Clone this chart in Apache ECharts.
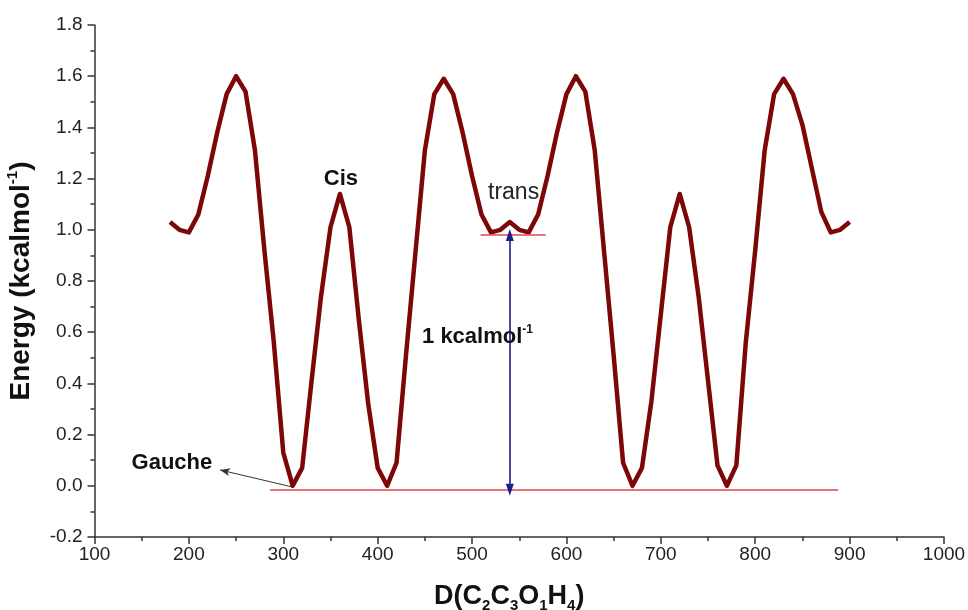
<!DOCTYPE html>
<html>
<head>
<meta charset="utf-8">
<script src="https://cdn.jsdelivr.net/npm/echarts@6/dist/echarts.min.js"></script>
<style>
  html, body { margin: 0; padding: 0; background: #fff; }
  #chart { width: 968px; height: 610px; }
</style>
</head>
<body>
<div id="chart"></div>
<script>
// Dihedral angle scan D(C2C3O1H4) and relative energy (kcal/mol)
const angles = [
  180, 190, 200, 210, 220, 230, 240, 250, 260, 270, 280, 290, 300, 310, 320, 330, 340, 350, 360, 370,
  380, 390, 400, 410, 420, 430, 440, 450, 460, 470, 480, 490, 500, 510, 520, 530, 540, 550, 560, 570,
  580, 590, 600, 610, 620, 630, 640, 650, 660, 670, 680, 690, 700, 710, 720, 730, 740, 750, 760, 770,
  780, 790, 800, 810, 820, 830, 840, 850, 860, 870, 880, 890, 900
];
const energies = [
  1.03, 1.00, 0.99, 1.06, 1.21, 1.38, 1.53, 1.60, 1.54, 1.31, 0.92, 0.56, 0.13, 0.00, 0.07, 0.41, 0.74, 1.01, 1.14, 1.01,
  0.65, 0.32, 0.07, 0.00, 0.09, 0.51, 0.91, 1.31, 1.53, 1.59, 1.53, 1.38, 1.21, 1.06, 0.99, 1.00, 1.03, 1.00, 0.99, 1.06,
  1.21, 1.38, 1.53, 1.60, 1.54, 1.31, 0.91, 0.51, 0.09, 0.00, 0.07, 0.33, 0.67, 1.01, 1.14, 1.01, 0.74, 0.41, 0.08, 0.00,
  0.08, 0.56, 0.92, 1.31, 1.53, 1.59, 1.53, 1.41, 1.24, 1.07, 0.99, 1.00, 1.03
];

// Axis ranges and ticks
const xRange = [100, 1000];
const xStep = 100;
const yRange = [-0.2, 1.8];
const yStep = 0.2;

// Reference levels
const gaucheLevel = -0.015;
const gaucheSpan = [286, 888];
const transLevel = 0.98;
const transSpan = [509, 578];
const barrierAngle = 540;

// Gauche pointer: from the minimum towards the label
const gauchePointer = [[310, -0.005], [233, 0.062]];

// Annotation anchors [angle, energy]
const gaucheLabelAt = [182, 0.089];
const cisLabelAt = [361, 1.20];
const transLabelAt = [544, 1.145];
const barrierLabelAt = [447, 0.58];

const font = '"Liberation Sans", Arial, sans-serif';
const chart = echarts.init(document.getElementById('chart'), null, { renderer: 'canvas' });

const noteLabel = (text, extra) => Object.assign({
  show: true, position: 'inside', formatter: text,
  fontFamily: font, color: '#111', fontSize: 22, fontWeight: 'bold'
}, extra || {});

const tickStyle = { color: '#333', width: 1.5 };

chart.setOption({
  animation: false,
  backgroundColor: '#fff',
  grid: { left: 94.5, right: 24, top: 25, bottom: 73, containLabel: false, outerBoundsMode: 'none' },
  xAxis: {
    type: 'value', min: xRange[0], max: xRange[1], interval: xStep,
    name: '{b|D(C}{s|2}{b|C}{s|3}{b|O}{s|1}{b|H}{s|4}{b|)}',
    nameLocation: 'middle', nameGap: 44,
    nameTextStyle: {
      padding: [0, 20, 0, 0],
      rich: {
        b: { fontFamily: font, fontSize: 27, fontWeight: 'bold', color: '#111', lineHeight: 32 },
        s: { fontFamily: font, fontSize: 15, fontWeight: 'bold', color: '#111', lineHeight: 15, verticalAlign: 'bottom' }
      }
    },
    axisLine: { show: true, onZero: false, lineStyle: { color: '#333', width: 1.5 } },
    axisTick: { show: true, inside: false, length: 7, lineStyle: tickStyle },
    minorTick: { show: true, splitNumber: 2, length: 4, lineStyle: tickStyle },
    axisLabel: { fontFamily: font, fontSize: 19, color: '#222', margin: 8, formatter: v => String(v) },
    splitLine: { show: false },
    minorSplitLine: { show: false }
  },
  yAxis: {
    type: 'value', min: yRange[0], max: yRange[1], interval: yStep,
    name: '{b|Energy (kcalmol}{p|-1}{b|)}',
    nameLocation: 'middle', nameGap: 57, nameRotate: 90,
    nameTextStyle: {
      rich: {
        b: { fontFamily: font, fontSize: 28, fontWeight: 'bold', color: '#111', lineHeight: 32 },
        p: { fontFamily: font, fontSize: 15, fontWeight: 'bold', color: '#111', lineHeight: 15, verticalAlign: 'top' }
      }
    },
    axisLine: { show: true, lineStyle: { color: '#333', width: 1.5 } },
    axisTick: { show: true, inside: false, length: 7, lineStyle: tickStyle },
    minorTick: { show: true, splitNumber: 2, length: 4, lineStyle: tickStyle },
    axisLabel: {
      fontFamily: font, fontSize: 19, color: '#222', margin: 12,
      formatter: v => v.toFixed(1)
    },
    splitLine: { show: false },
    minorSplitLine: { show: false }
  },
  series: [
    {
      type: 'line',
      data: angles.map((a, i) => [a, energies[i]]),
      symbol: 'none',
      lineStyle: { color: '#7d0606', width: 4.5, join: 'round' },
      z: 3,
      markLine: {
        silent: true,
        symbol: ['none', 'none'],
        label: { show: false },
        emphasis: { disabled: true },
        data: [
          [
            { coord: [gaucheSpan[0], gaucheLevel], lineStyle: { color: '#e0474c', width: 1.6, type: 'solid' } },
            { coord: [gaucheSpan[1], gaucheLevel] }
          ],
          [
            { coord: [transSpan[0], transLevel], lineStyle: { color: '#e0474c', width: 1.6, type: 'solid' } },
            { coord: [transSpan[1], transLevel] }
          ],
          [
            { coord: [barrierAngle, transLevel], symbol: 'triangle', symbolSize: [8, 12],
              lineStyle: { color: '#1c1c8a', width: 1.6, type: 'solid' } },
            { coord: [barrierAngle, gaucheLevel], symbol: 'triangle', symbolSize: [8, 12] }
          ],
          [
            { coord: gauchePointer[0], symbol: 'none',
              lineStyle: { color: '#333', width: 1, type: 'solid' } },
            { coord: gauchePointer[1], symbol: 'arrow', symbolSize: [6, 10] }
          ]
        ]
      },
      markPoint: {
        silent: true,
        symbol: 'circle',
        symbolSize: 0,
        data: [
          { coord: gaucheLabelAt, label: noteLabel('Gauche') },
          { coord: cisLabelAt, label: noteLabel('Cis') },
          { coord: transLabelAt, label: noteLabel('trans', { fontWeight: 'normal', fontSize: 23, color: '#222' }) },
          {
            coord: barrierLabelAt,
            label: {
              show: true, position: 'right', distance: 0,
              formatter: '{b|1 kcalmol}{p|-1}',
              rich: {
                b: { fontFamily: font, fontSize: 22, fontWeight: 'bold', color: '#111', lineHeight: 28 },
                p: { fontFamily: font, fontSize: 12, fontWeight: 'bold', color: '#111', lineHeight: 13, verticalAlign: 'top' }
              }
            }
          }
        ]
      }
    }
  ]
});
</script>
</body>
</html>
